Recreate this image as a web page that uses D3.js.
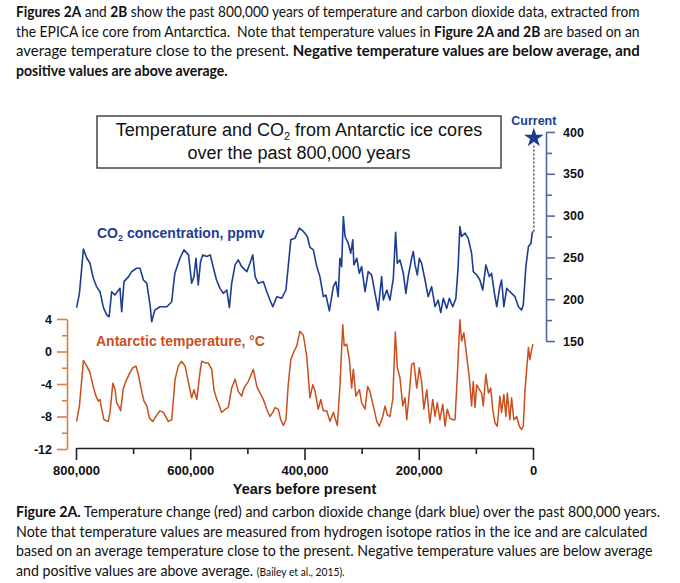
<!DOCTYPE html>
<html>
<head>
<meta charset="utf-8">
<script src="https://cdn.jsdelivr.net/npm/d3@7"></script>
<style>
  body { margin: 0; background: #fff; }
  svg { display: block; }
</style>
</head>
<body>
<div id="figure"></div>
<script>
// ages are in thousands of years before present (EPICA Dome C)
var co2Age = [799, 794, 787, 781, 775.5, 770, 764, 758, 752, 746,
  742, 737.5, 732, 723, 720, 716, 708, 702.5, 694, 688,
  682, 676, 670, 667.5, 662, 653, 641, 632.5, 627, 618,
  611, 603, 597.5, 593.5, 590, 586, 582, 578, 571, 565,
  560, 554, 548, 542, 536, 531.5, 527.5, 521.5, 516, 510,
  501, 495.5, 490.5, 486.5, 481, 472, 466, 460.5, 455.5, 448.5,
  440, 432.5, 428.5, 424, 416.5, 409, 402, 395, 390.5, 384.5,
  378.5, 373, 367, 362.5, 356.5, 349.5, 345, 341, 338, 335,
  332, 329, 323.5, 319, 315.5, 313.5, 308.5, 304, 300, 294,
  288.5, 282.5, 276.5, 271, 265, 262, 256, 250.5, 244.5, 240.5,
  237.5, 233, 227, 222.5, 218.5, 212.5, 209.5, 206.5, 202.5, 199,
  195, 189, 183.5, 177.5, 171.5, 166, 161.5, 157, 151, 146.5,
  140.5, 135, 131, 128, 125, 119, 113.5, 107.5, 104.5, 98.5,
  93, 88, 82.5, 76.5, 72.5, 67.5, 63.5, 58, 55, 51,
  46, 40.5, 31.5, 25.5, 20, 17, 12.5, 8, 3.5, 1.5,
  0];
var co2Ppmv = [190, 207, 260, 249, 243, 226, 215, 209, 190, 181,
  179, 209, 205, 213, 185, 221, 227, 233, 237, 237,
  223, 219, 191, 173, 187, 191, 191, 197, 231, 249,
  259, 253, 219, 227, 249, 217, 245, 253, 251, 253,
  239, 223, 213, 207, 211, 190, 219, 241, 247, 239,
  233, 243, 253, 227, 219, 221, 209, 199, 191, 203,
  201, 211, 239, 271, 273, 285, 281, 275, 262, 259,
  239, 227, 203, 205, 186, 215, 221, 203, 249, 239,
  299, 275, 267, 255, 271, 241, 249, 231, 239, 209,
  233, 229, 207, 187, 227, 199, 211, 199, 225, 280,
  243, 247, 231, 207, 227, 249, 257, 241, 229, 249,
  243, 223, 203, 215, 191, 199, 184, 201, 189, 201,
  191, 201, 239, 287, 275, 279, 273, 255, 233, 229,
  223, 211, 241, 227, 231, 207, 191, 215, 223, 191,
  213, 209, 203, 191, 187, 193, 239, 263, 267, 279,
  281];

var tempAge = [799, 794, 787, 781, 775.5, 770, 765, 761, 758, 755,
  751, 743.5, 740.5, 735.5, 731.5, 729, 724, 722, 717, 711,
  705.5, 700.5, 695, 691, 685, 681, 676, 671.5, 665.5, 658.5,
  653, 647, 638.5, 632.5, 626.5, 621, 615, 609, 603.5, 597.5,
  593.5, 588.5, 583, 580, 574, 568.5, 562.5, 558.5, 553.5, 551,
  545, 539, 533.5, 527.5, 521.5, 516, 510, 506, 498.5, 489.5,
  483.5, 478, 472, 466, 460.5, 455.5, 451.5, 446, 441.5, 437,
  432.5, 428.5, 424, 418.5, 413.5, 408, 402, 396, 390.5, 385.5,
  381.5, 376, 371.5, 367, 361, 355.5, 349.5, 342.5, 338, 333,
  330.5, 326, 321.5, 317.5, 314.5, 310, 304, 300, 294, 289.5,
  285.5, 279.5, 273.5, 269, 263, 259, 255, 250.5, 245.5, 241,
  237.5, 233, 228, 224, 221, 216.5, 212.5, 208.5, 203.5, 199,
  195, 191, 186, 180.5, 175.5, 171.5, 167.5, 163, 158, 154,
  150, 145.5, 140.5, 136.5, 132.5, 128, 125, 121, 116, 111.5,
  107.5, 104.5, 101.5, 98.5, 94, 90, 87, 82.5, 78, 74,
  70.5, 66.5, 62.5, 58, 55, 51, 47.5, 45, 40.5, 37.5,
  33.5, 28.5, 24, 20, 17, 14, 11, 8, 5.5, 2.5,
  0];
var tempAnomaly = [-8.6, -6.7, -1.1, -1.8, -2.6, -4.3, -5.5, -6.1, -5.9, -7.1,
  -8.4, -8.6, -7.5, -3.9, -4.7, -6.3, -6.9, -7.3, -4.5, -3.4,
  -2.6, -2.0, -1.8, -2.8, -4.9, -6.1, -6.7, -8.2, -8.6, -7.8,
  -7.3, -7.5, -8.6, -8.4, -3.4, -1.8, -1.2, -1.8, -3.7, -5.7,
  -4.7, -5.9, -2.6, -1.2, -1.4, -1.4, -2.2, -4.7, -5.9, -6.3,
  -7.5, -7.1, -6.9, -4.5, -3.4, -4.9, -5.5, -4.5, -3.7, -2.2,
  -4.3, -5.1, -5.9, -7.1, -8.0, -7.5, -6.9, -7.1, -8.4, -9.1,
  -8.4, -4.1, -1.0, 0.0, 0.7, 2.5, 2.0, -0.6, -5.7, -4.1,
  -4.9, -7.1, -5.9, -7.3, -7.3, -8.6, -7.5, -9.1, -4.3, 3.3,
  0.7, 0.9, -1.0, -4.5, -2.2, -5.5, -4.7, -6.3, -7.1, -4.3,
  -4.9, -6.7, -8.6, -9.2, -8.0, -6.7, -7.8, -8.0, -5.9, 2.4,
  -2.0, -3.2, -6.7, -5.7, -8.4, -5.1, -1.6, -1.4, -4.5, -2.0,
  -3.7, -7.1, -4.7, -8.8, -5.9, -8.0, -6.3, -8.4, -6.5, -9.2,
  -7.1, -8.2, -8.4, -8.4, -3.0, 3.9, 1.3, 2.3, -0.6, -3.2,
  -6.7, -3.7, -6.9, -4.1, -4.7, -5.1, -6.7, -2.8, -5.1, -4.5,
  -7.1, -8.8, -9.2, -5.5, -7.5, -5.3, -8.0, -5.1, -8.4, -5.7,
  -8.4, -8.0, -9.2, -9.6, -9.2, -4.7, -2.2, 0.5, -1.0, 0.2,
  0.9];

// today's value, marked with the star
var currentAge = -1.5;
var currentPpmv = 393;

var ageTicks = [800, 700, 600, 500, 400, 300, 200, 100, 0];
var ageTickLabels = ["800,000", "", "600,000", "", "400,000", "", "200,000", "", "0"];
var tempTicks = [-12, -10, -8, -6, -4, -2, 0, 2, 4];
var tempTickLabels = ["-12", "", "-8", "", "-4", "", "0", "", "4"];
var co2Ticks = [150, 175, 200, 225, 250, 275, 300, 325, 350, 375, 400];
var co2TickLabels = ["150", "", "200", "", "250", "", "300", "", "350", "", "400"];

// *bold* and _small_ runs
var introLines = [
  "*Figures 2A* and *2B* show the past 800,000 years of temperature and carbon dioxide data, extracted from",
  "the EPICA ice core from Antarctica.  Note that temperature values in *Figure 2A and 2B* are based on an",
  "average temperature close to the present. *Negative temperature values are below average, and*",
  "*positive values are above average.*"
];
var captionLines = [
  "*Figure 2A.* Temperature change (red) and carbon dioxide change (dark blue) over the past 800,000 years.",
  "Note that temperature values are measured from hydrogen isotope ratios in the ice and are calculated",
  "based on an average temperature close to the present. Negative temperature values are below average",
  "and positive values are above average. _(Bailey et al., 2015)._"
];

var blue = "#1d3d93",
    red = "#c94f1d",
    axisFont = "'Liberation Sans', Arial, sans-serif",
    textFont = "Lato, 'Open Sans', sans-serif";

var svg = d3.select("#figure")
  .append("svg")
    .attr("width", 680)
    .attr("height", 583);

// paragraph lines, each one scaled horizontally to the original width
function writeLines(lines, top, gap, widths) {
  lines.forEach(function(line, i) {
    var t = svg.append("text")
      .style("font-family", textFont)
      .style("font-size", "14.5px")
      .style("fill", "#111")
      .style("white-space", "pre");
    line.split(/(\*[^*]+\*|_[^_]+_)/).filter(Boolean).forEach(function(part) {
      var s = t.append("tspan");
      if (part[0] === "*") {
        s.text(part.slice(1, -1)).style("font-weight", "bold");
      } else if (part[0] === "_") {
        s.text(part.slice(1, -1)).style("font-size", "10.5px");
      } else {
        s.text(part);
      }
    });
    var k = widths[i] / t.node().getComputedTextLength();
    t.attr("transform", "translate(16," + (top + i * gap) + ") scale(" + k + ",1)");
  });
}

writeLines(introLines, 17, 19.5, [624, 624, 624, 212]);
writeLines(captionLines, 517, 19.7, [645, 632, 637, 329]);

// scales
var x = d3.scaleLinear()
  .domain([800, 0])
  .range([76, 533]);

var yCo2 = d3.scaleLinear()
  .domain([150, 400])
  .range([341, 132]);

var yTemp = d3.scaleLinear()
  .domain([-12, 4])
  .range([449, 319]);

function labelFrom(ticks, labels) {
  return function(d) { return labels[ticks.indexOf(d)]; };
}

function styleAxis(g, color, minorLen, dir) {
  g.select(".domain").attr("stroke", color).attr("stroke-width", 1.6);
  g.selectAll(".tick line").attr("stroke", color).attr("stroke-width", 1.6);
  g.selectAll(".tick text")
    .style("font-family", axisFont)
    .style("font-weight", "bold")
    .style("font-size", "12.5px")
    .attr("fill", "#111");
  // unlabelled ticks are the short ones
  g.selectAll(".tick").filter(function() {
    return d3.select(this).select("text").text() === "";
  }).select("line").attr(dir, minorLen);
}

// X axis
var xAxis = svg.append("g")
  .attr("transform", "translate(0,448)")
  .call(d3.axisBottom(x)
    .tickValues(ageTicks)
    .tickFormat(labelFrom(ageTicks, ageTickLabels))
    .tickSize(12)
    .tickSizeOuter(0)
    .tickPadding(6));
styleAxis(xAxis, "#222", 6, "y2");
xAxis.selectAll(".tick text").style("font-size", "13px");

svg.append("text")
  .attr("x", x(400))
  .attr("y", 494)
  .attr("text-anchor", "middle")
  .style("font-family", axisFont)
  .style("font-weight", "bold")
  .style("font-size", "14.5px")
  .attr("fill", "#111")
  .text("Years before present");

// temperature axis on the left
var tAxis = svg.append("g")
  .attr("transform", "translate(67,0)")
  .call(d3.axisLeft(yTemp)
    .tickValues(tempTicks)
    .tickFormat(labelFrom(tempTicks, tempTickLabels))
    .tickSize(10)
    .tickSizeOuter(0)
    .tickPadding(5));
styleAxis(tAxis, "#d98048", -5, "x2");

// CO2 axis on the right
var cAxis = svg.append("g")
  .attr("transform", "translate(546,0)")
  .call(d3.axisRight(yCo2)
    .tickValues(co2Ticks)
    .tickFormat(labelFrom(co2Ticks, co2TickLabels))
    .tickSize(9)
    .tickSizeOuter(0)
    .tickPadding(8));
styleAxis(cAxis, "#56699f", 6, "x2");

// title box
svg.append("rect")
  .attr("x", 97)
  .attr("y", 116)
  .attr("width", 404)
  .attr("height", 52)
  .attr("fill", "#fff")
  .attr("stroke", "#444")
  .attr("stroke-width", 1.5);

var title = svg.append("text")
  .attr("text-anchor", "middle")
  .style("font-family", axisFont)
  .style("font-size", "18px")
  .attr("fill", "#111");
var t1 = title.append("tspan").attr("x", 299).attr("y", 136);
t1.append("tspan").text("Temperature and CO");
t1.append("tspan").text("2").style("font-size", "11px").attr("dy", 4);
t1.append("tspan").text(" from Antarctic ice cores").attr("dy", -4);
title.append("tspan").attr("x", 299).attr("y", 159).text("over the past 800,000 years");

// series labels
var co2Label = svg.append("text")
  .attr("x", 97)
  .attr("y", 238)
  .style("font-family", axisFont)
  .style("font-weight", "bold")
  .style("font-size", "14px")
  .attr("fill", blue);
co2Label.append("tspan").text("CO");
co2Label.append("tspan").text("2").style("font-size", "9px").attr("dy", 3);
co2Label.append("tspan").text(" concentration, ppmv").attr("dy", -3);

svg.append("text")
  .attr("x", 96)
  .attr("y", 346)
  .style("font-family", axisFont)
  .style("font-weight", "bold")
  .style("font-size", "14px")
  .attr("fill", red)
  .text("Antarctic temperature, \u00b0C");

// the two records
var co2Data = co2Age.map(function(a, i) { return {age: a, value: co2Ppmv[i]}; });
var tempData = tempAge.map(function(a, i) { return {age: a, value: tempAnomaly[i]}; });

svg.append("path")
  .datum(tempData)
  .attr("fill", "none")
  .attr("stroke", red)
  .attr("stroke-width", 1.5)
  .attr("stroke-linejoin", "round")
  .attr("d", d3.line()
    .x(function(d) { return x(d.age) })
    .y(function(d) { return yTemp(d.value) }));

svg.append("path")
  .datum(co2Data)
  .attr("fill", "none")
  .attr("stroke", blue)
  .attr("stroke-width", 1.6)
  .attr("stroke-linejoin", "round")
  .attr("d", d3.line()
    .x(function(d) { return x(d.age) })
    .y(function(d) { return yCo2(d.value) }));

// dotted link from the last core value up to today
var last = co2Data[co2Data.length - 1];
svg.append("line")
  .attr("x1", x(currentAge))
  .attr("x2", x(currentAge))
  .attr("y1", yCo2(last.value))
  .attr("y2", yCo2(currentPpmv) + 7)
  .attr("stroke", "#555")
  .attr("stroke-width", 1.5)
  .attr("stroke-dasharray", "2,2");

svg.append("path")
  .attr("d", d3.symbol().type(d3.symbolStar).size(120))
  .attr("transform", "translate(" + x(currentAge) + "," + yCo2(currentPpmv) + ")")
  .attr("fill", blue);

svg.append("text")
  .attr("x", x(currentAge))
  .attr("y", 125)
  .attr("text-anchor", "middle")
  .style("font-family", axisFont)
  .style("font-weight", "bold")
  .style("font-size", "12.5px")
  .attr("fill", blue)
  .text("Current");
</script>
</body>
</html>
